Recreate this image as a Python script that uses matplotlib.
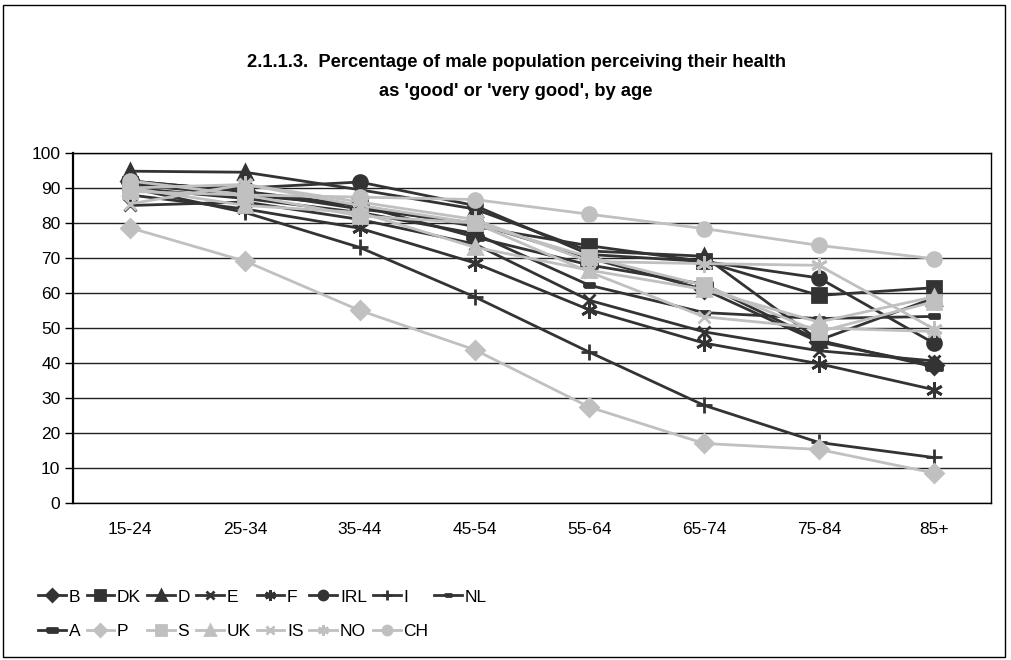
import numpy as np
import matplotlib
matplotlib.use("Agg")
import matplotlib.pyplot as plt
from matplotlib.patches import Rectangle

plt.rcParams["font.family"] = ["Liberation Sans", "DejaVu Sans"]

ages = ["15-24", "25-34", "35-44", "45-54", "55-64", "65-74", "75-84", "85+"]

B   = [92.0, 89.0, 84.0, 80.0, 70.0, 61.0, 46.0, 39.5]
DK  = [91.0, 88.0, 85.0, 79.0, 73.5, 69.0, 59.3, 61.5]
D   = [94.8, 94.5, 89.5, 84.0, 72.0, 70.5, 46.5, 58.5]
E   = [85.0, 86.0, 81.0, 74.0, 57.9, 48.9, 43.5, 40.6]
F   = [88.0, 84.0, 78.5, 68.6, 55.2, 45.7, 39.8, 32.4]
IRL = [91.0, 90.0, 91.7, 85.0, 71.0, 69.0, 64.3, 45.7]
I   = [90.0, 83.0, 73.0, 58.9, 43.1, 27.9, 17.3, 13.0]
NL  = [90.0, 87.0, 83.0, 77.0, 62.2, 54.4, 52.7, 53.3]
A   = [92.0, 89.0, 85.0, 76.0, 68.0, 62.5, 46.5, 38.9]
P   = [78.6, 69.1, 55.0, 43.8, 27.4, 17.0, 15.3, 8.6]
S   = [89.0, 88.0, 82.0, 80.0, 70.3, 62.2, 48.9, 57.5]
UK  = [90.0, 85.0, 83.0, 73.1, 66.5, 61.0, 51.7, 58.9]
IS  = [85.5, 91.0, 85.0, 80.0, 66.0, 53.2, 50.0, 49.0]
NO  = [90.0, 91.0, 86.0, 81.0, 69.0, 68.4, 67.9, 49.8]
CH  = [92.0, 88.0, 87.4, 86.7, 82.5, 78.4, 73.6, 69.8]

dark = "#333333"
light = "#c0c0c0"

small_dash = [(-1, -0.45), (1, -0.45), (1, 0.45), (-1, 0.45), (-1, -0.45)]
long_dash = [(-1, -0.3), (1, -0.3), (1, 0.3), (-1, 0.3), (-1, -0.3)]
asterisk = (6, 2, 0)

series = [
    ("B", B, dark, "D", 9),
    ("DK", DK, dark, "s", 10),
    ("D", D, dark, "^", 10),
    ("E", E, dark, "x", 9),
    ("F", F, dark, asterisk, 12),
    ("IRL", IRL, dark, "o", 10),
    ("I", I, dark, "+", 12),
    ("NL", NL, dark, small_dash, 7),
    ("A", A, dark, long_dash, 12),
    ("P", P, light, "D", 9),
    ("S", S, light, "s", 10),
    ("UK", UK, light, "^", 10),
    ("IS", IS, light, "x", 9),
    ("NO", NO, light, asterisk, 12),
    ("CH", CH, light, "o", 10),
]

fig = plt.figure(figsize=(10.12, 6.6), dpi=100)
ax = fig.add_axes([0.0721, 0.2379, 0.9071, 0.5303])

x = np.arange(len(ages))
handles = {}
for name, vals, col, mk, ms in series:
    h, = ax.plot(x, vals, color=col, lw=2.0, marker=mk, ms=ms,
                 markerfacecolor=col, markeredgecolor=col, mew=2.0,
                 label=name, clip_on=False)
    handles[name] = h

ax.set_xlim(-0.5, len(ages) - 0.5)
ax.set_ylim(0, 100)
ax.set_yticks(range(0, 101, 10))
ax.set_xticks(x)
ax.set_xticklabels(ages)
ax.tick_params(axis="x", length=0, pad=14, labelsize=12.5)
ax.tick_params(axis="y", length=6, width=1, pad=3, labelsize=12.5)
ax.yaxis.grid(True, color="#222222", lw=1.0)
ax.set_axisbelow(True)
for side in ["top", "right", "bottom"]:
    ax.spines[side].set_linewidth(1.0)
ax.spines["left"].set_linewidth(1.6)

fig.text(0.51, 0.906, "2.1.1.3.  Percentage of male population perceiving their health",
         ha="center", va="center", fontsize=13.2, fontweight="bold")
fig.text(0.51, 0.862, "as 'good' or 'very good', by age",
         ha="center", va="center", fontsize=13.2, fontweight="bold")

order = ["B", "A", "DK", "P", "D", "S", "E", "UK", "F", "IS", "IRL", "NO", "I", "CH", "NL"]
fig.legend([handles[n] for n in order], order, ncol=8, loc="upper left",
           bbox_to_anchor=(0.038, 0.107), bbox_transform=fig.transFigure,
           frameon=False, fontsize=12.5, handlelength=1.6, handletextpad=0.15,
           columnspacing=0.35, labelspacing=1.1, borderaxespad=0, borderpad=0,
           markerscale=0.65)

fig.patches.append(Rectangle((0.003, 0.004), 0.99, 0.988, transform=fig.transFigure,
                             fill=False, edgecolor="black", lw=1.0))

fig.savefig("out.png", dpi=100)
